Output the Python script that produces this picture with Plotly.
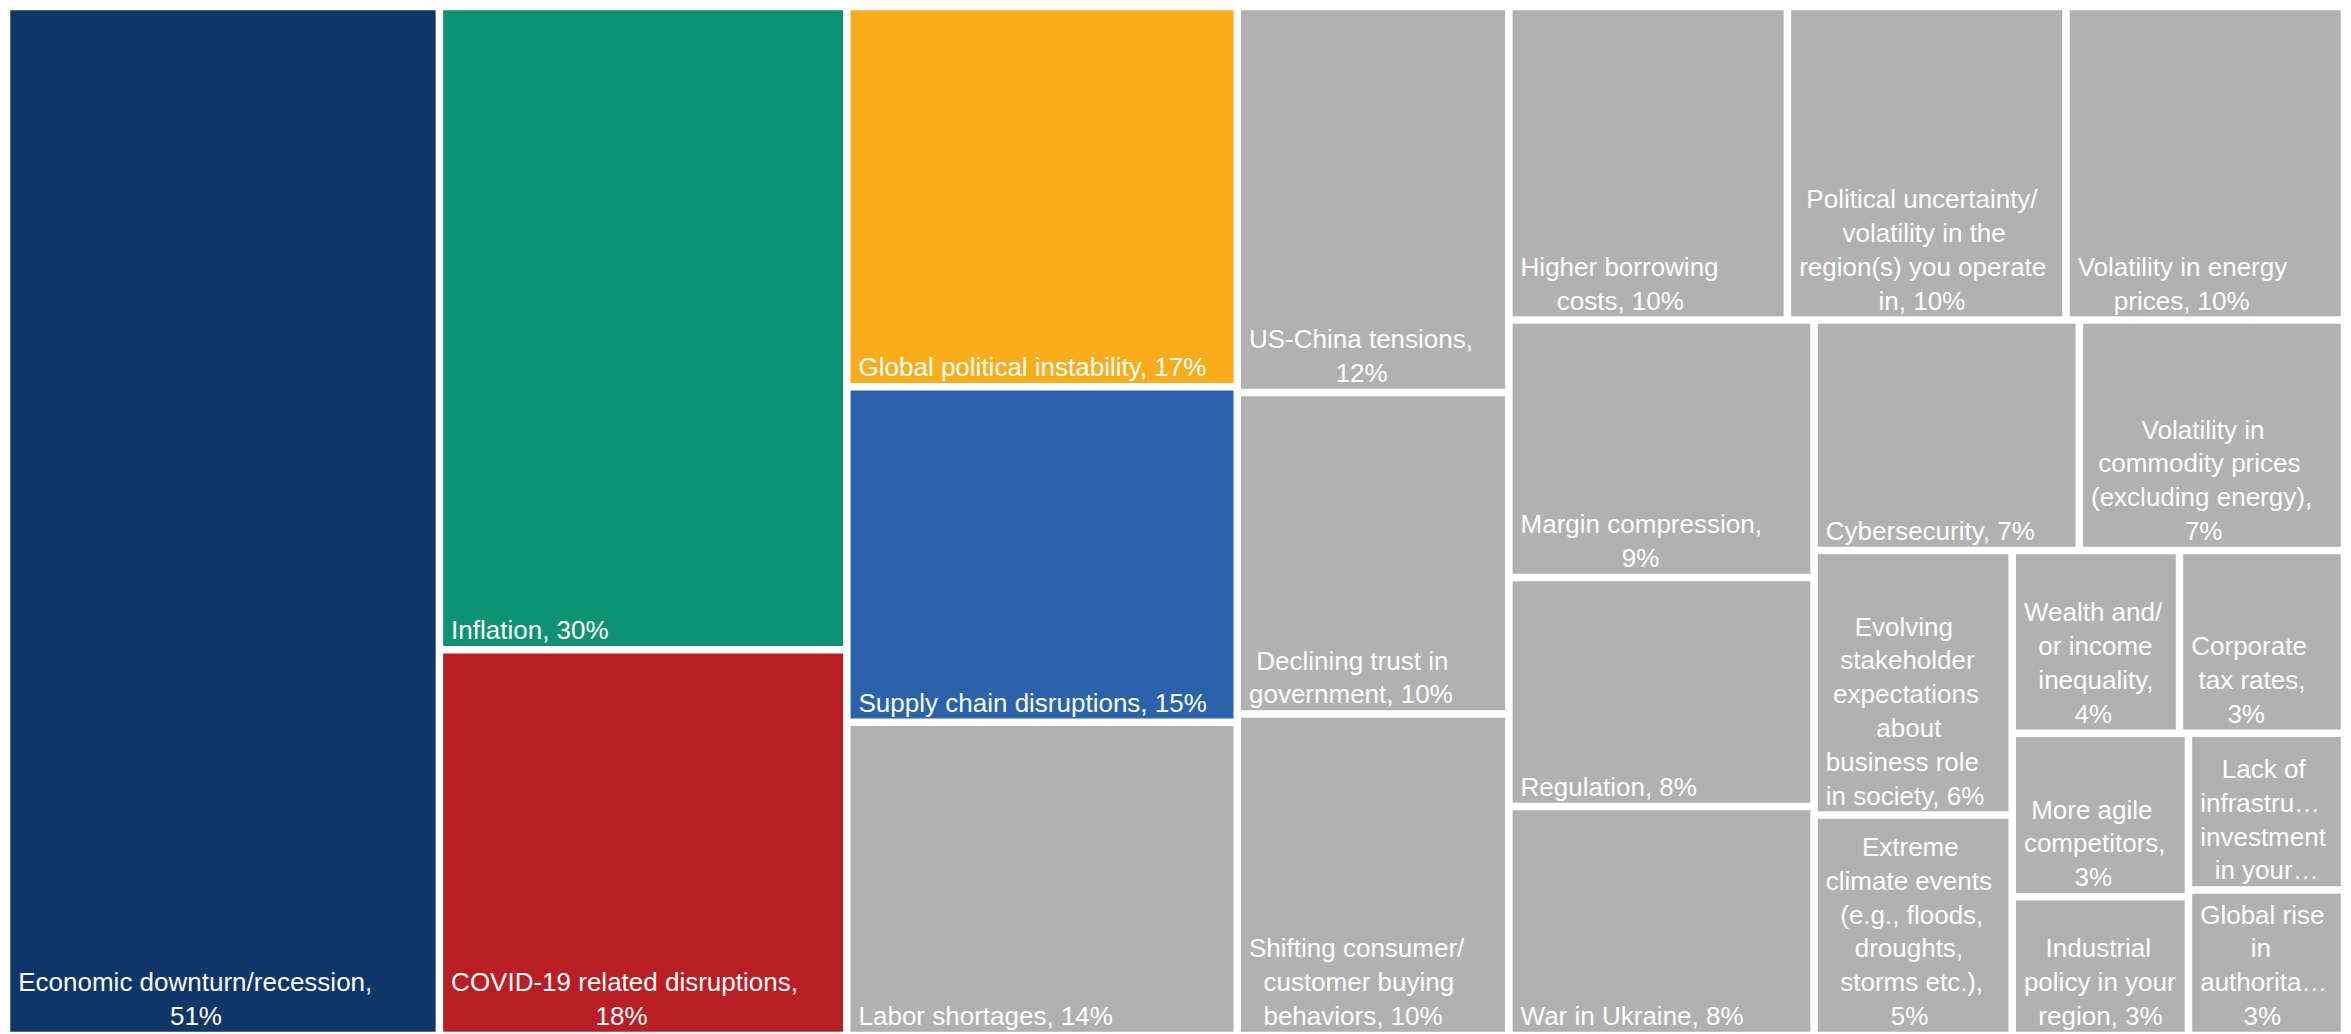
import plotly.graph_objects as go

# ---- leaf data -------------------------------------------------------------
labels = [
    "Economic downturn/recession", "Inflation", "COVID-19 related disruptions",
    "Global political instability", "Supply chain disruptions", "Labor shortages",
    "US-China tensions", "Declining trust in government",
    "Shifting consumer/customer buying behaviors", "Higher borrowing costs",
    "Political uncertainty/volatility in the region(s) you operate in",
    "Volatility in energy prices", "Margin compression", "Regulation",
    "War in Ukraine", "Cybersecurity",
    "Volatility in commodity prices (excluding energy)",
    "Evolving stakeholder expectations about business role in society",
    "Extreme climate events (e.g., floods, droughts, storms etc.)",
    "Wealth and/or income inequality", "Corporate tax rates",
    "More agile competitors", "Industrial policy in your region",
    "Lack of infrastructure investment in your region",
    "Global rise in authoritarianism",
]
values = [51, 30, 18, 17, 15, 14, 12, 10, 10, 10, 10, 10, 9, 8, 8, 7, 7, 6, 5,
          3.5, 3.45, 3.3, 2.8, 2.8, 2.6]
display_lines = [
    ["Economic downturn/recession,", "51%"],
    ["Inflation, 30%"],
    ["COVID-19 related disruptions,", "18%"],
    ["Global political instability, 17%"],
    ["Supply chain disruptions, 15%"],
    ["Labor shortages, 14%"],
    ["US-China tensions,", "12%"],
    ["Declining trust in", "government, 10%"],
    ["Shifting consumer/", "customer buying", "behaviors, 10%"],
    ["Higher borrowing", "costs, 10%"],
    ["Political uncertainty/", "volatility in the", "region(s) you operate", "in, 10%"],
    ["Volatility in energy", "prices, 10%"],
    ["Margin compression,", "9%"],
    ["Regulation, 8%"],
    ["War in Ukraine, 8%"],
    ["Cybersecurity, 7%"],
    ["Volatility in", "commodity prices", "(excluding energy),", "7%"],
    ["Evolving", "stakeholder", "expectations", "about", "business role", "in society, 6%"],
    ["Extreme", "climate events", "(e.g., floods,", "droughts,", "storms etc.),", "5%"],
    ["Wealth and/", "or income", "inequality,", "4%"],
    ["Corporate", "tax rates,", "3%"],
    ["More agile", "competitors,", "3%"],
    ["Industrial", "policy in your", "region, 3%"],
    ["Lack of", "infrastru…", "investment", "in your…"],
    ["Global rise", "in", "authorita…", "3%"],
]

# ---- grouping that reproduces the reference's tiling (slice/dice by depth) --
group_ids = ["c2", "c3", "c4", "c5", "c5top", "c5bot", "colA", "r2",
             "rowB", "r3", "colC", "r4", "rowD", "r5", "colE", "colF"]
group_parents = ["", "", "", "", "c5", "c5", "c5bot", "c5bot",
                 "r2", "r2", "r3", "r3", "r4", "r4", "r5", "r5"]
leaf_parents = ["", "c2", "c2", "c3", "c3", "c3", "c4", "c4", "c4",
                "c5top", "c5top", "c5top", "colA", "colA", "colA",
                "rowB", "rowB", "colC", "colC", "rowD", "rowD",
                "colE", "colE", "colF", "colF"]

# approximate Arial advance widths (1/1000 em) used to centre lines in a block
_W = {" ": 278, ",": 278, ".": 278, "/": 278, "-": 333, "(": 333, ")": 333,
      "%": 889, "…": 1000, "I": 278, "M": 833, "W": 944, "C": 722, "D": 722,
      "G": 778, "H": 722, "R": 722, "U": 722, "L": 556,
      "c": 500, "f": 278, "i": 222, "j": 222, "k": 500, "l": 222, "m": 833,
      "r": 333, "s": 500, "t": 278, "v": 500, "w": 722, "x": 500, "y": 500, "z": 500}


def _width(s):
    return sum(_W.get(ch, 667 if ch.isupper() else 556) for ch in s)


def centred(lines, lead=1):
    mw = max(_width(l) for l in lines)
    out = []
    for l in lines:
        n = int(round((mw - _width(l)) / 2 / 278)) + lead
        out.append("\u00a0" * n + l)
    return "<br>".join(out)


highlight = {
    "Economic downturn/recession": "#0f3669",
    "Inflation": "#0d9273",
    "COVID-19 related disruptions": "#b91e27",
    "Global political instability": "#f9ad1c",
    "Supply chain disruptions": "#2a63ab",
}
default_color = "#b2b1b2"

ids, labs, pars, vals, texts, cols = [], [], [], [], [], []
ids.append(labels[0]); labs.append(labels[0]); pars.append(leaf_parents[0])
vals.append(values[0]); texts.append(centred(display_lines[0]))
cols.append(highlight.get(labels[0], default_color))
for gid, gpar in zip(group_ids, group_parents):
    ids.append(gid); labs.append(""); pars.append(gpar); vals.append(0)
    texts.append(""); cols.append("white")
for lab, par, val, lines in zip(labels[1:], leaf_parents[1:], values[1:], display_lines[1:]):
    ids.append(lab); labs.append(lab); pars.append(par); vals.append(val)
    texts.append(centred(lines)); cols.append(highlight.get(lab, default_color))

fig = go.Figure(go.Treemap(
    ids=ids,
    labels=labs,
    parents=pars,
    values=vals,
    branchvalues="remainder",
    text=texts,
    textinfo="text",
    texttemplate="%{text}",
    textposition="bottom left",
    textfont=dict(family="Arial, Liberation Sans, sans-serif", size=26, color="white"),
    marker=dict(colors=cols, line=dict(color="white", width=4.5),
                pad=dict(t=0, l=0, r=0, b=0)),
    tiling=dict(packing="slice-dice"),
    pathbar=dict(visible=False),
    sort=False,
    hoverinfo="label+value",
))
fig.update_layout(
    width=2335, height=1026,
    margin=dict(l=0, r=0, t=0, b=0),
    paper_bgcolor="white",
)
fig.write_html("out.html")
